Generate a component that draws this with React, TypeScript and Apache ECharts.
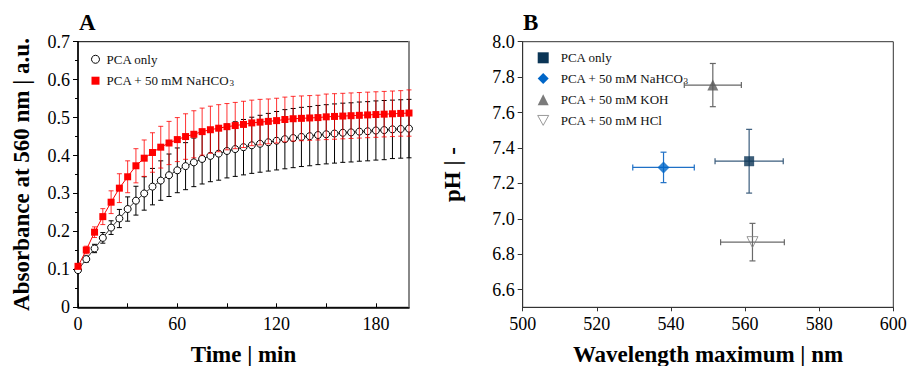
import React, { useEffect, useRef } from 'react';
import * as echarts from 'echarts';

const FONT = "'Liberation Serif', 'Times New Roman', serif";

// Panel A: time course
const times = [0, 5, 10, 15, 20, 25, 30, 35, 40, 45, 50, 55, 60, 65, 70, 75, 80, 85, 90, 95, 100,
  105, 110, 115, 120, 125, 130, 135, 140, 145, 150, 155, 160, 165, 170, 175, 180, 185, 190, 195, 200];

const pcaOnly = [0.098, 0.127, 0.155, 0.183, 0.210, 0.234, 0.259, 0.281, 0.300, 0.318, 0.334,
  0.348, 0.361, 0.372, 0.382, 0.391, 0.399, 0.405, 0.412, 0.417, 0.422,
  0.427, 0.431, 0.435, 0.439, 0.443, 0.446, 0.449, 0.451, 0.454, 0.456,
  0.458, 0.460, 0.461, 0.463, 0.464, 0.466, 0.467, 0.469, 0.470, 0.471];
const pcaOnlyErr = [0.004, 0.008, 0.011, 0.014, 0.018, 0.024, 0.032, 0.038, 0.044, 0.048, 0.052,
  0.056, 0.059, 0.062, 0.064, 0.066, 0.068, 0.070, 0.071, 0.072, 0.073,
  0.074, 0.075, 0.076, 0.077, 0.078, 0.078, 0.078, 0.078, 0.078, 0.078,
  0.078, 0.078, 0.078, 0.078, 0.078, 0.078, 0.078, 0.077, 0.077, 0.077];

const nahco3 = [0.108, 0.151, 0.198, 0.239, 0.277, 0.314, 0.344, 0.373, 0.393, 0.408, 0.422,
  0.433, 0.442, 0.450, 0.456, 0.463, 0.468, 0.472, 0.476, 0.479, 0.482,
  0.486, 0.488, 0.490, 0.492, 0.495, 0.497, 0.498, 0.499, 0.500, 0.502,
  0.503, 0.504, 0.505, 0.506, 0.507, 0.508, 0.509, 0.510, 0.511, 0.512];
const nahco3Err = [0.006, 0.010, 0.014, 0.021, 0.030, 0.038, 0.042, 0.045, 0.048, 0.052, 0.055,
  0.057, 0.058, 0.060, 0.062, 0.062, 0.062, 0.062, 0.061, 0.061, 0.061,
  0.060, 0.060, 0.059, 0.059, 0.059, 0.059, 0.059, 0.059, 0.059, 0.060,
  0.060, 0.060, 0.060, 0.060, 0.060, 0.060, 0.060, 0.060, 0.060, 0.061];

const aTicks = [0, 30, 60, 90, 120, 150, 180];
const aLabels = [0, 60, 120, 180];

// Panel B: wavelength maximum vs pH
const bNames = ['PCA only', 'PCA + 50 mM NaHCO3', 'PCA + 50 mM KOH', 'PCA + 50 mM HCl'];
const wavelength = [561.1, 538.0, 551.3, 562.0];
const wavelengthErr = [9.2, 8.3, 7.7, 8.6];
const ph = [7.325, 7.290, 7.755, 6.868];
const phErr = [0.18, 0.086, 0.122, 0.106];
const phTicks = [6.6, 6.8, 7.0, 7.2, 7.4, 7.6, 7.8, 8.0];

const bColors = ['#0b3556', '#0066c8', '#5a5a5a', 'rgba(255,255,255,0)'];
const bBorders = ['#0b3556', '#0066c8', '#5a5a5a', '#808080'];
const bErrColors = ['#3a5c7c', '#1f70c6', '#666666', '#6a6a6a'];
const bSymbols = ['rect', 'diamond', 'triangle', 'path://M0,0 L10,0 L5,9 Z'];
const bSizes = [10, 12, 11, 11];

const NA = 'PCA + 50 mM NaHCO3';

const legendFormatter = (name: string) =>
  name === NA ? '{t|PCA + 50 mM NaHCO}{s|3}' : '{t|' + name + '}';

const errA = (color: string, opacity: number) => (params: any, api: any) => {
  const x = api.value(0), y = api.value(1), e = api.value(2);
  const top = api.coord([x, y + e]);
  const bot = api.coord([x, y - e]);
  const hw = 2.5;
  const style = { stroke: color, lineWidth: 1, opacity };
  return {
    type: 'group',
    children: [
      { type: 'line', shape: { x1: top[0], y1: top[1], x2: bot[0], y2: bot[1] }, style },
      { type: 'line', shape: { x1: top[0] - hw, y1: top[1], x2: top[0] + hw, y2: top[1] }, style },
      { type: 'line', shape: { x1: bot[0] - hw, y1: bot[1], x2: bot[0] + hw, y2: bot[1] }, style },
    ],
  };
};

const errB = (color: string) => (params: any, api: any) => {
  const x = api.value(0), y = api.value(1), ex = api.value(2), ey = api.value(3);
  const t = api.coord([x, y + ey]);
  const b = api.coord([x, y - ey]);
  const l = api.coord([x - ex, y]);
  const r = api.coord([x + ex, y]);
  const hw = 3;
  const style = { stroke: color, lineWidth: 1.2 };
  return {
    type: 'group',
    children: [
      { type: 'line', shape: { x1: t[0], y1: t[1], x2: b[0], y2: b[1] }, style },
      { type: 'line', shape: { x1: t[0] - hw, y1: t[1], x2: t[0] + hw, y2: t[1] }, style },
      { type: 'line', shape: { x1: b[0] - hw, y1: b[1], x2: b[0] + hw, y2: b[1] }, style },
      { type: 'line', shape: { x1: l[0], y1: l[1], x2: r[0], y2: r[1] }, style },
      { type: 'line', shape: { x1: l[0], y1: l[1] - hw, x2: l[0], y2: l[1] + hw }, style },
      { type: 'line', shape: { x1: r[0], y1: r[1] - hw, x2: r[0], y2: r[1] + hw }, style },
    ],
  };
};

const tickFont = { fontFamily: FONT, fontSize: 18, color: '#000' };
const nameFont = { fontFamily: FONT, fontSize: 23, fontWeight: 'bold' as const, color: '#000', lineHeight: 22 };

const makeRich = (padLeft: number) => ({
  t: { fontFamily: FONT, fontSize: 13, color: '#111', lineHeight: 14, padding: [0, 0, 0, padLeft] },
  s: { fontFamily: FONT, fontSize: 9, color: '#111', verticalAlign: 'bottom', lineHeight: 14 },
});

export default function App() {
  const ref = useRef<HTMLDivElement>(null);
  useEffect(() => {
    document.body.style.margin = '0';
    const chart = echarts.init(ref.current!, null, { renderer: 'svg' });

    const bScatter = bNames.map((n, i) => ({
      name: n,
      type: 'scatter',
      xAxisIndex: 1,
      yAxisIndex: 1,
      symbol: bSymbols[i],
      symbolSize: bSizes[i],
      itemStyle: { color: bColors[i], borderColor: bBorders[i], borderWidth: i === 3 ? 1 : 0 },
      data: [[wavelength[i], ph[i]]],
      z: 5,
    }));
    const bErr = bNames.map((n, i) => ({
      type: 'custom',
      xAxisIndex: 1,
      yAxisIndex: 1,
      renderItem: errB(bErrColors[i]),
      encode: { x: 0, y: 1 },
      data: [[wavelength[i], ph[i], wavelengthErr[i], phErr[i]]],
      z: 4,
    }));

    chart.setOption({
      animation: false,
      backgroundColor: '#fff',
      title: [
        { text: 'A', left: 79, top: 11, padding: 0, textStyle: { fontFamily: FONT, fontSize: 23, fontWeight: 'bold', color: '#000' } },
        { text: 'B', left: 523, top: 11, padding: 0, textStyle: { fontFamily: FONT, fontSize: 23, fontWeight: 'bold', color: '#000' } },
      ],
      legend: [
        {
          left: 91, top: 52.8, orient: 'vertical', padding: 0, itemWidth: 8, itemHeight: 8, itemGap: 8.4,
          selectedMode: false, formatter: legendFormatter,
          textStyle: { fontFamily: FONT, fontSize: 13, color: '#111', rich: makeRich(2) },
          data: [
            { name: 'PCA only', icon: 'circle', itemStyle: { color: '#fff', borderColor: '#000', borderWidth: 1 } },
            { name: NA, icon: 'rect', itemStyle: { color: '#ff0000', borderWidth: 0 } },
          ],
        },
        {
          left: 537.2, top: 51.3, orient: 'vertical', padding: 0, itemWidth: 11, itemHeight: 11, itemGap: 7.7,
          selectedMode: false, formatter: legendFormatter,
          textStyle: { fontFamily: FONT, fontSize: 13, color: '#111', rich: makeRich(7) },
          data: bNames.map((n, i) => ({
            name: n,
            icon: bSymbols[i],
            itemStyle: { color: bColors[i], borderColor: bBorders[i], borderWidth: i === 3 ? 1 : 0 },
          })),
        },
      ],
      grid: [
        { left: 78, top: 41.7, width: 331, height: 265.6, show: true, borderColor: '#000', borderWidth: 1, backgroundColor: 'transparent', outerBoundsMode: 'none', containLabel: false },
        { left: 522.7, top: 41.7, width: 370.6, height: 265.6, show: true, borderColor: '#333', borderWidth: 1, backgroundColor: 'transparent', outerBoundsMode: 'none', containLabel: false },
      ],
      xAxis: [
        {
          gridIndex: 0, type: 'value', min: 0, max: 200, interval: 30,
          axisLine: { lineStyle: { color: '#000', width: 1.5 } },
          axisTick: { show: true, inside: true, length: 4, customValues: aTicks, lineStyle: { color: '#000' } },
          axisLabel: { customValues: aLabels, margin: 8, ...tickFont },
          splitLine: { show: false },
          name: 'Time | min', nameLocation: 'middle', nameGap: 36, nameTextStyle: nameFont,
        },
        {
          gridIndex: 1, type: 'value', min: 500, max: 600, interval: 20,
          axisLine: { lineStyle: { color: '#333', width: 1 } },
          axisTick: { show: true, inside: false, length: 4, lineStyle: { color: '#333' } },
          axisLabel: { margin: 8, ...tickFont },
          splitLine: { show: false },
          name: 'Wavelength maximum | nm', nameLocation: 'middle', nameGap: 36, nameTextStyle: nameFont,
        },
      ],
      yAxis: [
        {
          gridIndex: 0, type: 'value', min: 0, max: 0.7, interval: 0.1,
          axisLine: { show: true, lineStyle: { color: '#000', width: 1.5 } },
          axisTick: { show: true, inside: false, length: 5, lineStyle: { color: '#000' } },
          minorTick: { show: true, splitNumber: 2, length: 3, lineStyle: { color: '#000' } },
          axisLabel: { margin: 8, ...tickFont, formatter: (v: number) => (v === 0 ? '0' : v.toFixed(1)) },
          splitLine: { show: false },
          name: 'Absorbance at 560 nm | a.u.', nameLocation: 'middle', nameGap: 46, nameTextStyle: nameFont,
        },
        {
          gridIndex: 1, type: 'value', min: 6.5, max: 8.0,
          axisLine: { show: true, lineStyle: { color: '#333', width: 1 } },
          axisTick: { show: true, inside: false, length: 5, customValues: phTicks, lineStyle: { color: '#333' } },
          axisLabel: { margin: 8, ...tickFont, customValues: phTicks, formatter: (v: number) => v.toFixed(1) },
          splitLine: { show: false },
          name: 'pH | -', nameLocation: 'middle', nameGap: 59, nameTextStyle: nameFont,
        },
        {
          gridIndex: 0, type: 'value', min: 0, max: 0.7, position: 'right',
          axisLine: { show: true, lineStyle: { color: '#888', width: 2 } },
          axisTick: { show: false }, axisLabel: { show: false }, splitLine: { show: false },
        },
      ],
      series: [
        {
          type: 'custom', xAxisIndex: 0, yAxisIndex: 0, renderItem: errA('#000', 1),
          encode: { x: 0, y: 1 }, data: times.map((t, i) => [t, pcaOnly[i], pcaOnlyErr[i]]), z: 2,
        },
        {
          name: 'PCA only', type: 'line', xAxisIndex: 0, yAxisIndex: 0,
          symbol: 'circle', symbolSize: 7, showAllSymbol: true,
          itemStyle: { color: '#fff', borderColor: '#000', borderWidth: 1 },
          lineStyle: { color: '#333', width: 1 },
          data: times.map((t, i) => [t, pcaOnly[i]]), z: 3,
        },
        {
          type: 'custom', xAxisIndex: 0, yAxisIndex: 0, renderItem: errA('#ff0000', 0.8),
          encode: { x: 0, y: 1 }, data: times.map((t, i) => [t, nahco3[i], nahco3Err[i]]), z: 4,
        },
        {
          name: NA, type: 'line', xAxisIndex: 0, yAxisIndex: 0,
          symbol: 'rect', symbolSize: 7, showAllSymbol: true,
          itemStyle: { color: '#ff0000', borderWidth: 0 },
          lineStyle: { color: '#ff0000', width: 1 },
          data: times.map((t, i) => [t, nahco3[i]]), z: 5,
        },
        ...bErr,
        ...bScatter,
      ],
    });
    return () => chart.dispose();
  }, []);
  return <div ref={ref} style={{ width: 907, height: 366 }} />;
}
